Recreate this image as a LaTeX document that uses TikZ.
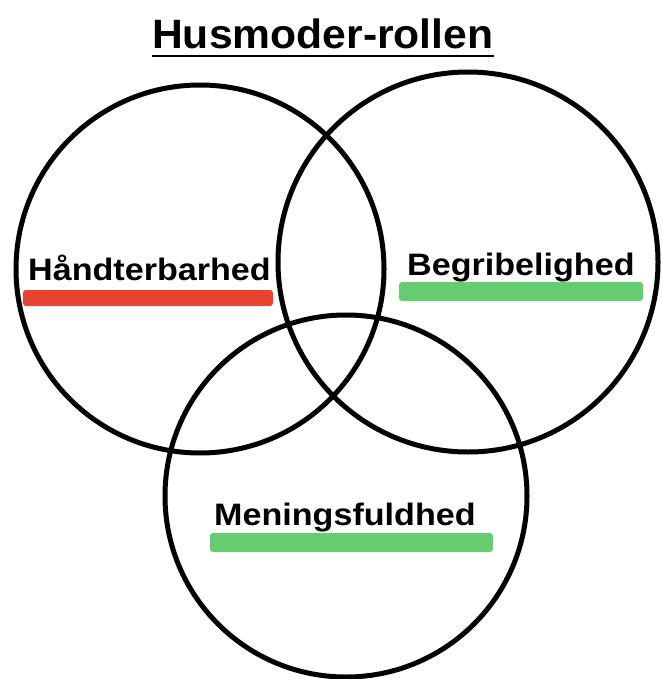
\documentclass[tikz,border=0pt]{standalone}
\usepackage{fontspec}
\setmainfont{Liberation Sans}
\definecolor{barred}{HTML}{E8432E}
\definecolor{bargreen}{HTML}{66CC70}
\tikzset{
  ring/.style={draw=black, line width=5pt},
  label/.style={anchor=base west, inner sep=0pt, font=\bfseries\fontsize{31}{36}\selectfont},
  bar/.style={rounded corners=3pt},
}
\begin{document}
\begin{tikzpicture}[x=1pt, y=-1pt]
  \useasboundingbox (0,0) rectangle (661,679);
  % title
  \node[anchor=base west, inner sep=0pt, font=\bfseries\fontsize{41}{48}\selectfont]
    (title) at (152,49) {\scalebox{1.04}[1]{Husmoder-rollen}};
  \draw[line width=2.2pt] (title.west |- 0,56) -- (title.east |- 0,56);
  % the three circles
  \draw[ring] (200,269) circle (184);
  \draw[ring] (468,262) circle (190);
  \draw[ring] (346,496) circle (181);
  % labels with their bars
  \node[label] (hand) at (28,280) {\scalebox{1.1}[1]{Håndterbarhed}};
  \fill[barred, bar] (23,290) rectangle (273,306);
  \node[label] (begr) at (407,275) {\scalebox{1.1}[1]{Begribelighed}};
  \fill[bargreen, bar] (399,282) rectangle (643,301);
  \node[label] (mean) at (214,525) {\scalebox{1.1}[1]{Meningsfuldhed}};
  \fill[bargreen, bar] (210,533) rectangle (493,552);
\end{tikzpicture}
\end{document}
